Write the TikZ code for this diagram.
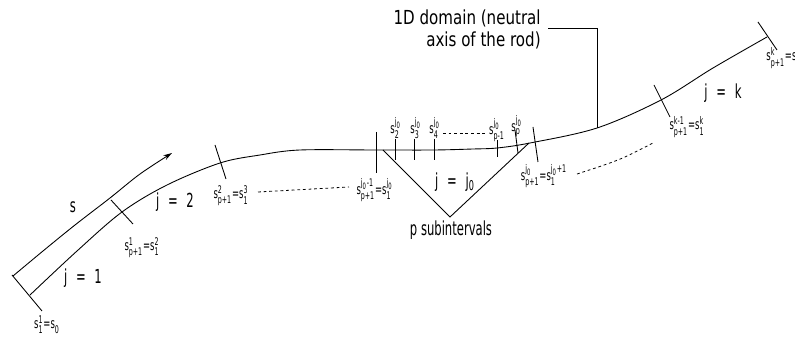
\documentclass[tikz,border=0pt]{standalone}
\usepackage{amsmath}
\usepackage{fontspec}
\usetikzlibrary{arrows.meta}
\newfontfamily\cadfont[FakeStretch=0.6]{DejaVu Sans}
\newfontfamily\cadwide[FakeStretch=0.78]{DejaVu Sans}
\newcommand\sv[3]{$\text{#1}^{\text{#2}}_{\text{#3}}$}
\newcommand\jz{j\textsubscript{0}}
\newcommand\eqs{\hspace{0.45em}=\hspace{0.45em}}
\tikzset{
  rod/.style={line width=0.5pt},
  cut/.style={line width=0.5pt},
  gap/.style={line width=0.45pt,dash pattern=on 1.6pt off 1.6pt},
  jlab/.style={font=\cadfont\fontsize{11}{12.5}\selectfont,inner sep=0pt},
  slab/.style={font=\cadfont\fontsize{8}{9}\selectfont,inner sep=0pt}
}

\begin{document}
\begin{tikzpicture}[x=0.02cm,y=-0.02cm]
\useasboundingbox (0,0) rectangle (795,337);

% neutral axis of the rod
\draw[rod] plot[smooth,tension=0.55] coordinates {(30,295) (77,251) (122,212) (167,185) (220,163)
  (260,155) (300,150) (376,150) (434,150) (473,149) (497,148) (530,143) (597,128) (661,100) (713,68) (767,37)};
% arc length s
\draw[rod,-{Stealth[length=5pt,width=3pt]}] plot[smooth,tension=0.55] coordinates {(13,276) (43,251)
  (75,225) (110,198) (140,174) (172,153)};

% element ends
\coordinate (e0a) at (12,275);   \coordinate (e0b) at (42,311);
\coordinate (e1a) at (111,200);  \coordinate (e1b) at (133,224);
\coordinate (e2a) at (215,145);  \coordinate (e2b) at (226,179);
\coordinate (e3a) at (376,132);  \coordinate (e3b) at (376,173);
\coordinate (e4a) at (533,127);  \coordinate (e4b) at (538,162);
\coordinate (e5a) at (654,85);   \coordinate (e5b) at (670,117);
\coordinate (e6a) at (758,22);   \coordinate (e6b) at (777,50);
\foreach \i in {0,...,6}
  \draw[cut] (e\i a) -- (e\i b);

% subinterval ticks
\foreach \x/\n in {395/2,414/3,434/4}
  \draw[cut] (\x,139) coordinate (t\n a) -- (\x,160) coordinate (t\n b);
\draw[cut] (497,140) coordinate (tqa) -- (497,157) coordinate (tqb);
\draw[cut] (515,130) coordinate (tpa) -- (518,153) coordinate (tpb);

% p subintervals
\coordinate (vl) at (383,150);
\coordinate (vb) at (450,217);
\coordinate (vr) at (529,143);
\draw[rod] (vl) -- (vb) -- (vr);

% leader
\coordinate (lf) at (597,128);
\coordinate (lt) at (597,28);
\coordinate (le) at (548,28);
\draw[rod] (lf) -- (lt) -- (le);

% labels
\node[slab] (l0) at (47,325) {\sv{s}{1}{1}=\sv{s}{}{0}};
\node[jlab] (ls) at (73,207) {s};
\node[jlab] (j1) at (83,278) {j\eqs1};
\node[slab] (l1) at (142,248) {\sv{s}{1}{p+1}=\sv{s}{2}{1}};
\node[jlab] (j2) at (175,202) {j\eqs2};
\node[slab] (l2) at (231,196) {\sv{s}{2}{p+1}=\sv{s}{3}{1}};
\node[slab] (l3) at (375,190) {\sv{s}{\jz-1}{p+1}=\sv{s}{\jz}{1}};
\node[slab] (t2) at (396,128) {\sv{s}{\jz}{2}};
\node[slab] (t3) at (416,128) {\sv{s}{\jz}{3}};
\node[slab] (t4) at (435,128) {\sv{s}{\jz}{4}};
\node[slab] (tq) at (497,130) {\sv{s}{\jz}{p-1}};
\node[slab] (tp) at (517,126) {\sv{s}{\jz}{p}};
\node[jlab] (jj) at (455,182) {j\eqs\jz};
\node[jlab] (ps) at (451,230) {p subintervals};
\node[slab] (l4) at (544,176) {\sv{s}{\jz}{p+1}=\sv{s}{\jz+1}{1}};
\node[slab] (l5) at (687,127) {\sv{s}{k-1}{p+1}=\sv{s}{k}{1}};
\node[jlab] (jk) at (723,93) {j\eqs k};
\node[slab,anchor=west] (l6) at (766,58) {\sv{s}{k}{p+1}=\sv{s}{}{L}};
\node[jlab,font=\cadwide\fontsize{11}{12.5}\selectfont,align=right,anchor=east] (dom) at (541,29)
  {1D domain (neutral\\axis of the rod)};

% gaps between elements
\coordinate (g1a) at (258,192);
\coordinate (g1b) at (349,187);
\draw[gap] (g1a) -- (g1b);
\coordinate (g2a) at (443,133);
\coordinate (g2b) at (487,133);
\draw[gap] (g2a) -- (g2b);
\coordinate (g3a) at (577,174);
\coordinate (g3b) at (653,143);
\draw[gap] (g3a) .. controls (620,160) .. (g3b);
\end{tikzpicture}
\end{document}
